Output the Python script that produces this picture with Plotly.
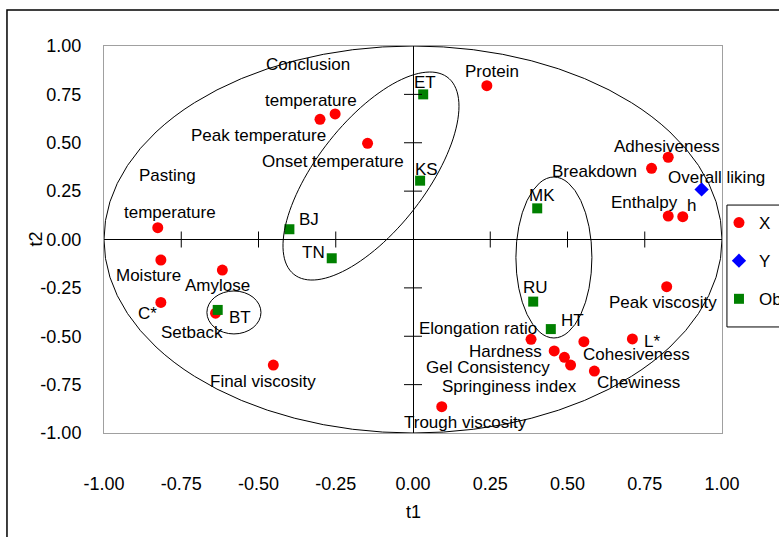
import numpy as np
import plotly.graph_objects as go

# ---------------- data ----------------
x_names = ["Conclusion temperature", "Peak temperature", "Onset temperature", "Pasting temperature",
           "Protein", "Adhesiveness", "Breakdown", "Enthalpy", "h", "Moisture", "Amylose", "C*",
           "Setback", "Final viscosity", "Peak viscosity", "Elongation ratio", "Hardness",
           "Gel Consistency", "Springiness index", "Cohesiveness", "L*", "Chewiness", "Trough viscosity"]
x_t1 = [-0.252, -0.301, -0.147, -0.826, 0.239, 0.826, 0.772, 0.826, 0.873, -0.816, -0.617, -0.816,
        -0.639, -0.452, 0.821, 0.382, 0.457, 0.490, 0.510, 0.553, 0.710, 0.587, 0.093]
x_t2 = [0.649, 0.621, 0.497, 0.061, 0.795, 0.425, 0.368, 0.121, 0.118, -0.106, -0.158, -0.325,
        -0.381, -0.649, -0.244, -0.516, -0.576, -0.609, -0.649, -0.528, -0.514, -0.680, -0.864]

y_names = ["Overall liking"]
y_t1 = [0.934]
y_t2 = [0.259]

obs_names = ["ET", "KS", "BJ", "TN", "MK", "RU", "HT", "BT"]
obs_t1 = [0.033, 0.023, -0.400, -0.263, 0.402, 0.389, 0.446, -0.632]
obs_t2 = [0.750, 0.304, 0.053, -0.097, 0.161, -0.321, -0.463, -0.364]

series_names = ["X", "Y", "Obs"]

tick_vals = [-1.0, -0.75, -0.5, -0.25, 0.0, 0.25, 0.5, 0.75, 1.0]
tick_text = ["-1.00", "-0.75", "-0.50", "-0.25", "0.00", "0.25", "0.50", "0.75", "1.00"]

# ---------------- label placement (pixel offsets from point: dx right, dy down) ----------------
label_pos = {
    "Conclusion temperature": [("Conclusion", -27.5, -49), ("temperature", -24.5, -13)],
    "Peak temperature": [("Peak temperature", -61, 15.7)],
    "Onset temperature": [("Onset temperature", -35, 18.4)],
    "Pasting temperature": [("Pasting", 9.3, -52.7), ("temperature", 12.6, -15.4)],
    "Protein": [("Protein", 5, -14)],
    "Adhesiveness": [("Adhesiveness", -1.6, -10.6)],
    "Breakdown": [("Breakdown", -57, 3.4)],
    "Enthalpy": [("Enthalpy", -23.5, -13.3)],
    "h": [("h", 8.3, -10.7)],
    "Moisture": [("Moisture", -12.2, 15.7)],
    "Amylose": [("Amylose", -4.6, 15.7)],
    "C*": [("C*", -13.8, 11)],
    "Setback": [("Setback", -23.9, 19)],
    "Final viscosity": [("Final viscosity", -10.3, 16.7)],
    "Peak viscosity": [("Peak viscosity", -3.9, 16)],
    "Elongation ratio": [("Elongation ratio", -53.2, -11)],
    "Hardness": [("Hardness", -48.6, 0.7)],
    "Gel Consistency": [("Gel Consistency", -76.3, 10.4)],
    "Springiness index": [("Springiness index", -61.5, 21)],
    "Cohesiveness": [("Cohesiveness", 52.3, 12.6)],
    "L*": [("L*", 19.7, 2.7)],
    "Chewiness": [("Chewiness", 43.7, 11.7)],
    "Trough viscosity": [("Trough viscosity", 23.6, 16)],
    "Overall liking": [("Overall liking", 15.3, -12)],
    "ET": [("ET", 1.7, -12)],
    "KS": [("KS", 6.7, -10.7)],
    "BJ": [("BJ", 19.7, -9.3)],
    "TN": [("TN", -18.5, -5.6)],
    "MK": [("MK", 4.4, -13.3)],
    "RU": [("RU", 2.4, -14.4)],
    "HT": [("HT", 22.1, -8.3)],
    "BT": [("BT", 21.8, 7.3)],
}

FONT = "Liberation Sans, Arial, sans-serif"

fig = go.Figure()
fig.add_trace(go.Scatter(x=x_t1, y=x_t2, mode="markers", name=series_names[0], legendgroup="X",
                         marker=dict(symbol="circle", size=11, color="#FF0000")))
fig.add_trace(go.Scatter(x=y_t1, y=y_t2, mode="markers", name=series_names[1], legendgroup="Y",
                         marker=dict(symbol="diamond", size=11, color="#0000FF")))
fig.add_trace(go.Scatter(x=obs_t1, y=obs_t2, mode="markers", name=series_names[2], legendgroup="Obs",
                         marker=dict(symbol="square", size=10, color="#008000")))

annotations = []
for names, xs, ys in [(x_names, x_t1, x_t2), (y_names, y_t1, y_t2), (obs_names, obs_t1, obs_t2)]:
    for n, xv, yv in zip(names, xs, ys):
        for txt, dx, dy in label_pos[n]:
            annotations.append(dict(x=xv, y=yv, xref="x", yref="y", text=txt, showarrow=False,
                                    xshift=dx, yshift=-dy, xanchor="center", yanchor="middle",
                                    font=dict(family=FONT, size=17, color="black")))

# axis titles
annotations.append(dict(x=0.5, y=0, xref="paper", yref="paper", text="t1", showarrow=False,
                        xanchor="center", yanchor="middle", yshift=-79,
                        font=dict(family=FONT, size=18, color="black")))
annotations.append(dict(x=0, y=0.5, xref="paper", yref="paper", text="t2", showarrow=False,
                        xanchor="center", yanchor="middle", xshift=-69, textangle=-90,
                        font=dict(family=FONT, size=18, color="black")))

shapes = []
# unit circle
shapes.append(dict(type="circle", xref="x", yref="y", x0=-1, x1=1, y0=-1, y1=1,
                   line=dict(color="black", width=1)))
# ellipse around MK/RU/HT
shapes.append(dict(type="circle", xref="x", yref="y", x0=0.333, x1=0.579, y0=-0.509, y1=0.323,
                   line=dict(color="black", width=1)))
# ellipse around BT
shapes.append(dict(type="circle", xref="x", yref="y", x0=-0.667, x1=-0.492, y0=-0.488, y1=-0.266,
                   line=dict(color="black", width=1)))
# tilted ellipse around ET/KS/BJ/TN
t = np.linspace(0, 2 * np.pi, 120)
cx, cy = -0.136, 0.328
ex = cx + 0.2848 * np.cos(t)
ey = cy + 0.3603 * np.cos(t) + 0.3989 * np.sin(t)
path = "M " + " L ".join(f"{a:.4f},{b:.4f}" for a, b in zip(ex, ey)) + " Z"
shapes.append(dict(type="path", xref="x", yref="y", path=path, line=dict(color="black", width=1)))

# cross tick marks on the central axes
for v in tick_vals:
    if v in (0.0, -1.0, 1.0):
        continue
    shapes.append(dict(type="line", xref="x", yref="y", x0=v, x1=v, ysizemode="pixel", yanchor=0,
                       y0=-8, y1=8, line=dict(color="black", width=1)))
    shapes.append(dict(type="line", yref="y", xref="x", y0=v, y1=v, xsizemode="pixel", xanchor=0,
                       x0=-9, x1=9, line=dict(color="black", width=1)))

# outer frame
shapes.append(dict(type="rect", xref="paper", yref="paper", x0=-0.157, x1=1.3, y0=-0.4, y1=1.093,
                   line=dict(color="black", width=1.5), layer="below"))
# legend box
shapes.append(dict(type="rect", xref="paper", yref="paper", x0=1.008, x1=1.2, y0=0.274, y1=0.589,
                   line=dict(color="black", width=1), fillcolor="white", layer="below"))

fig.update_layout(
    width=779, height=537,
    margin=dict(l=104, r=57, t=46, b=104, autoexpand=False),
    paper_bgcolor="white", plot_bgcolor="white",
    font=dict(family=FONT, size=18, color="black"),
    xaxis=dict(range=[-1, 1], tickvals=tick_vals, ticktext=tick_text, showgrid=False,
               zeroline=True, zerolinecolor="black", zerolinewidth=1,
               showline=True, mirror=True, linecolor="#A0A0A0", linewidth=1, ticks="",
               ticklabelstandoff=34),
    yaxis=dict(range=[-1, 1], tickvals=tick_vals, ticktext=tick_text, showgrid=False,
               zeroline=True, zerolinecolor="black", zerolinewidth=1,
               showline=True, mirror=True, linecolor="#A0A0A0", linewidth=1, ticks="",
               ticklabelstandoff=18),
    legend=dict(x=0.9951, y=0.589, xanchor="left", yanchor="top", bgcolor="rgba(0,0,0,0)",
                borderwidth=0, font=dict(family=FONT, size=17, color="black"), tracegroupgap=13,
                itemwidth=30),
    showlegend=True,
    shapes=shapes,
    annotations=annotations,
)

fig.write_html("out.html", config={"displayModeBar": False},
               post_script="document.body.style.margin='0px';")
